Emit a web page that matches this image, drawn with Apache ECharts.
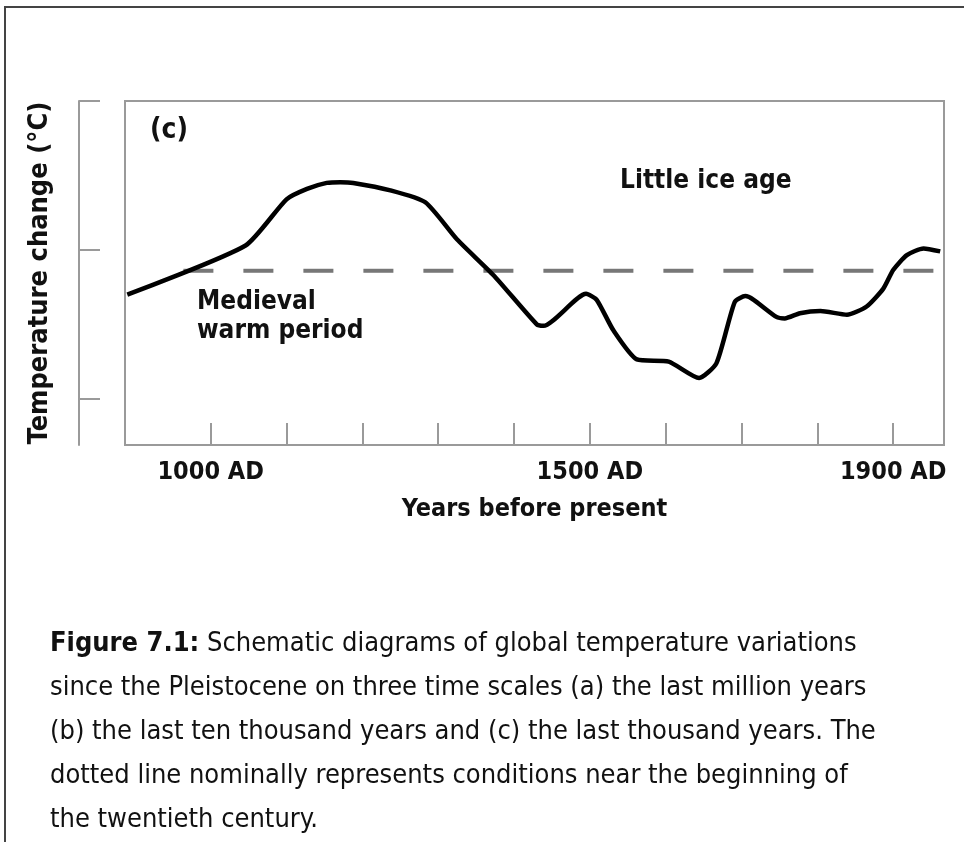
<!DOCTYPE html>
<html>
<head>
<meta charset="utf-8">
<script src="https://cdn.jsdelivr.net/npm/echarts@6/dist/echarts.min.js"></script>
<style>
  html, body { margin: 0; padding: 0; background: #fff; }
  #chart { width: 964px; height: 842px; }
</style>
</head>
<body>
<div id="chart"></div>
<script>
// Schematic temperature curve (c): last thousand years
const years = [890, 1046, 1100, 1127, 1153, 1171, 1188, 1237, 1283, 1325, 1373, 1430, 1439,
    1495, 1509, 1531, 1562, 1604, 1644, 1667, 1691, 1705, 1716, 1746, 1757, 1777, 1804,
    1839, 1865, 1887, 1900, 1918, 1940, 1962];
const tempChange = [-0.30, 0.03, 0.34, 0.41, 0.45, 0.455, 0.45, 0.40, 0.32, 0.07, -0.17, -0.50, -0.51,
    -0.295, -0.335, -0.54, -0.735, -0.75, -0.86, -0.76, -0.35, -0.31, -0.335, -0.45, -0.46, -0.425, -0.41,
    -0.435, -0.38, -0.26, -0.135, -0.035, 0.01, -0.01];

// dotted reference line (conditions near 1900)
const refYears = [964, 1958];
const refValue = -0.14;

const xTicks = [1000, 1100, 1200, 1300, 1400, 1500, 1600, 1700, 1800, 1900];
const xLabels = [1000, 1500, 1900];
const yTicks = [-1, 0, 1];

const captionLines = [
    "{b|Figure 7.1:} Schematic diagrams of global temperature variations",
    "since the Pleistocene on three time scales (a) the last million years",
    "(b) the last ten thousand years and (c) the last thousand years. The",
    "dotted line nominally represents conditions near the beginning of",
    "the twentieth century."
];

const FONT = "'Liberation Sans Narrow', 'DejaVu Sans Condensed', 'Noto Sans', sans-serif";
const AXIS_GRAY = '#9a9a9a';

let chart = echarts.init(document.getElementById('chart'), null, { renderer: 'canvas' });

let option = {
    backgroundColor: '#fff',
    animation: false,
    title: {
        left: 50,
        top: 622,
        padding: 0,
        text: captionLines.join('\n'),
        textStyle: {
            fontFamily: FONT,
            fontSize: 27,
            fontWeight: 'normal',
            color: '#111',
            lineHeight: 44,
            rich: {
                b: { fontFamily: FONT, fontSize: 27, fontWeight: 'bold', color: '#111', lineHeight: 44 }
            }
        }
    },
    grid: {
        left: 125, top: 101, right: 20, bottom: 397,
        show: true,
        borderColor: AXIS_GRAY,
        borderWidth: 2,
        backgroundColor: 'transparent',
        outerBoundsMode: 'none'
    },
    xAxis: {
        type: 'value',
        min: 887,
        max: 1967,
        name: 'Years before present',
        nameLocation: 'middle',
        nameGap: 52,
        nameTextStyle: { fontFamily: FONT, fontSize: 25, fontWeight: 'bold', color: '#111' },
        axisLine: { show: false, onZero: false },
        axisTick: {
            show: true,
            inside: true,
            length: 22,
            customValues: xTicks,
            lineStyle: { color: AXIS_GRAY, width: 2 }
        },
        axisLabel: {
            show: true,
            customValues: xLabels,
            margin: 15,
            formatter: v => v + ' AD',
            fontFamily: FONT,
            fontSize: 25,
            fontWeight: 'bold',
            color: '#111'
        },
        splitLine: { show: false }
    },
    yAxis: {
        type: 'value',
        min: -1.31,
        max: 1.0,
        offset: 46,
        name: 'Temperature change (°C)',
        nameLocation: 'middle',
        nameRotate: 90,
        nameGap: 26,
        nameTextStyle: { fontFamily: FONT, fontSize: 27, fontWeight: 'bold', color: '#111' },
        axisLine: { show: true, onZero: false, lineStyle: { color: AXIS_GRAY, width: 2 } },
        axisTick: {
            show: true,
            inside: true,
            length: 21,
            customValues: yTicks,
            lineStyle: { color: AXIS_GRAY, width: 2 }
        },
        axisLabel: { show: false },
        splitLine: { show: false }
    },
    series: [
        {
            name: 'reference',
            type: 'line',
            data: refYears.map(y => [y, refValue]),
            symbol: 'none',
            lineStyle: { color: '#777', width: 4, type: [30, 30] },
            z: 2
        },
        {
            name: 'temperature',
            type: 'line',
            data: years.map((y, i) => [y, tempChange[i]]),
            symbol: 'none',
            smooth: 0.2,
            lineStyle: { color: '#000', width: 4.5 },
            z: 3
        }
    ],
    graphic: [
        {
            type: 'rect',
            shape: { x: 5, y: 7, width: 1000, height: 900 },
            style: { fill: 'none', stroke: '#444', lineWidth: 2 },
            silent: true
        },
        {
            type: 'text', left: 150, top: 117,
            style: { text: '(c)', font: 'bold 28px ' + FONT, fill: '#111' }
        },
        {
            type: 'text', left: 620, top: 168,
            style: { text: 'Little ice age', font: 'bold 26px ' + FONT, fill: '#111' }
        },
        {
            type: 'text', left: 197, top: 288,
            style: { text: 'Medieval\nwarm period', font: 'bold 26px ' + FONT, fill: '#111', lineHeight: 29 }
        }
    ]
};

chart.setOption(option);
window.addEventListener('resize', () => chart.resize());
</script>
</body>
</html>
